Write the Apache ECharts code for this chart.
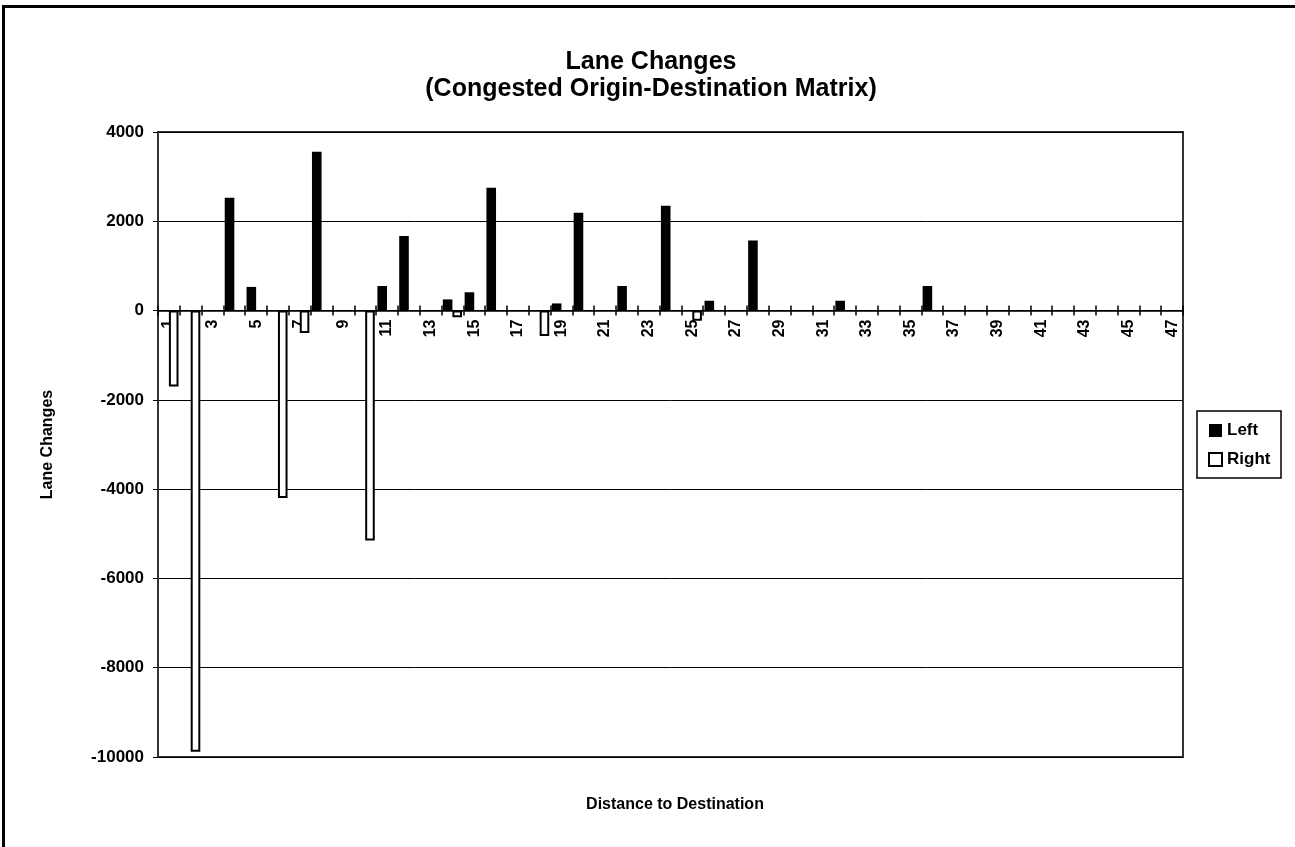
<!DOCTYPE html>
<html>
<head>
<meta charset="utf-8">
<script src="https://cdn.jsdelivr.net/npm/echarts@6/dist/echarts.min.js"></script>
<style>
html,body{margin:0;padding:0;background:#fff;}
#chart{width:1295px;height:847px;}
</style>
</head>
<body>
<div id="chart"></div>
<script>
var categories = ['1','2','3','4','5','6','7','8','9','10','11','12','13','14','15','16','17','18','19','20','21','22','23','24','25','26','27','28','29','30','31','32','33','34','35','36','37','38','39','40','41','42','43','44','45','46','47'];
var leftValues = [0,0,0,2530,530,0,0,3560,0,0,550,1670,0,250,410,2750,0,0,160,2190,0,550,0,2350,0,220,0,1570,0,0,0,220,0,0,0,550,0,0,0,0,0,0,0,0,0,0,0];
var rightValues = [-1700,-9880,0,0,0,-4200,-500,0,0,-5150,0,0,0,-150,0,0,0,-570,0,0,0,0,0,0,-230,0,0,0,0,0,0,0,0,0,0,0,0,0,0,0,0,0,0,0,0,0,0];
var yTicks = {min:-10000, max:4000, interval:2000};

var FONT = 'Liberation Sans, Arial, sans-serif';
var gridTop = 132, gridBottom = 90, H = 847;
var plotH = H - gridTop - gridBottom;
// distance from the bottom of the plot up to the value 0 on the y scale
var zeroOffset = plotH * (0 - yTicks.min) / (yTicks.max - yTicks.min);

// zero-height outlined bars would draw as marks on the axis; leave them empty
var rightData = rightValues.map(function(v){ return v === 0 ? null : v; });
var leftData = leftValues.map(function(v){ return v === 0 ? null : v; });

var chart = echarts.init(document.getElementById('chart'), null, {renderer:'canvas'});
chart.setOption({
  animation:false,
  backgroundColor:'#fff',
  title:[
    {text:'Lane Changes\n(Congested Origin-Destination Matrix)', left:646, top:44, textAlign:'center',
     textStyle:{fontFamily:FONT, fontWeight:'bold', fontSize:25, color:'#000', lineHeight:27}},
    {text:'Distance to Destination', left:670, top:792, textAlign:'center',
     textStyle:{fontFamily:FONT, fontWeight:'bold', fontSize:16, color:'#000'}}
  ],
  legend:{
    orient:'vertical', left:1203, top:417, itemWidth:13, itemHeight:13, itemGap:12,
    textStyle:{fontFamily:FONT, fontWeight:'bold', fontSize:17, color:'#000'},
    data:[{name:'Left', icon:'rect'},{name:'Right', icon:'rect'}]
  },
  grid:{left:158, right:112, top:gridTop, bottom:gridBottom, show:true, borderColor:'#333', borderWidth:2, containLabel:false},
  xAxis:[
    {type:'category', data:categories, position:'bottom', offset:-zeroOffset,
     axisLine:{onZero:false, lineStyle:{color:'#000', width:1.5}},
     axisTick:{show:true, length:5, interval:0, lineStyle:{color:'#000', width:1.5}},
     axisLabel:{interval:1, rotate:90, margin:9, fontFamily:FONT, fontWeight:'bold', fontSize:16, color:'#000'},
     splitLine:{show:false}},
    {type:'category', data:categories, position:'bottom', offset:-zeroOffset,
     axisLine:{onZero:false, show:false},
     axisTick:{show:true, inside:true, length:5, interval:0, lineStyle:{color:'#000', width:1.5}},
     axisLabel:{show:false}, splitLine:{show:false}}
  ],
  yAxis:{type:'value', min:yTicks.min, max:yTicks.max, interval:yTicks.interval,
    name:'Lane Changes', nameLocation:'middle', nameGap:102,
    nameTextStyle:{fontFamily:FONT, fontWeight:'bold', fontSize:16, color:'#000'},
    axisLine:{show:true, lineStyle:{color:'#333', width:2}},
    axisTick:{show:true, length:5, lineStyle:{color:'#000'}},
    axisLabel:{margin:14, fontFamily:FONT, fontWeight:'bold', fontSize:17, color:'#000',
      formatter:function(v){ return String(v); }},
    splitLine:{show:true, lineStyle:{color:'#000', width:1}}
  },
  series:[
    {name:'Left', type:'bar', xAxisIndex:0, data:leftData, barGap:'0%', barCategoryGap:'12%',
     itemStyle:{color:'#000'}},
    {name:'Right', type:'bar', xAxisIndex:0, data:rightData, barGap:'0%', barCategoryGap:'12%',
     itemStyle:{color:'#fff', borderColor:'#000', borderWidth:2}}
  ],
  graphic:[
    {type:'rect', shape:{x:1197, y:411, width:84, height:67}, style:{fill:null, stroke:'#000', lineWidth:1.5}, z:100},
    {type:'line', shape:{x1:3, y1:6.5, x2:1295, y2:6.5}, style:{stroke:'#000', lineWidth:3}},
    {type:'line', shape:{x1:3.5, y1:5, x2:3.5, y2:847}, style:{stroke:'#000', lineWidth:3}}
  ]
});
</script>
</body>
</html>
